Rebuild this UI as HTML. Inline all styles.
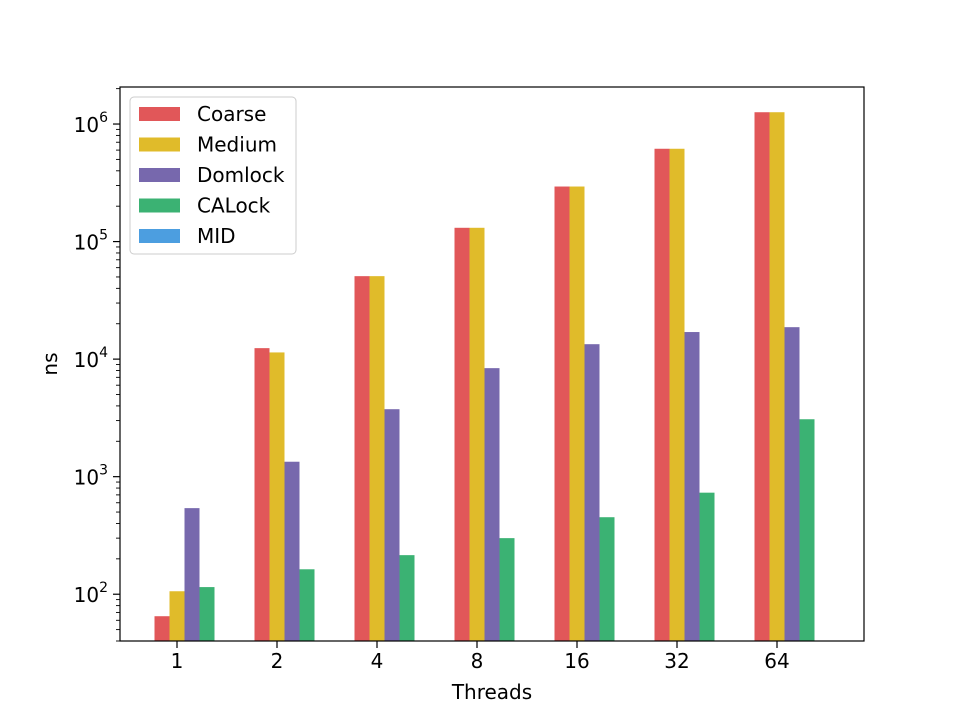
<!DOCTYPE html>
<html><head><meta charset="utf-8"><style>body{margin:0;background:#fff}svg{display:block;font-family:"DejaVu Sans","Liberation Sans",sans-serif}</style></head>
<body>
<svg id="chart" width="960" height="720" xmlns="http://www.w3.org/2000/svg"></svg>
<script>
const categories = ["1","2","4","8","16","32","64"];
const seriesNames = ["Coarse","Medium","Domlock","CALock","MID"];
const coarse = [65,12400,50800,131000,294000,616000,1260000];
const medium = [106,11400,50800,131000,294000,616000,1260000];
const domlock = [540,1340,3750,8380,13400,17000,18700];
const calock = [115,163,215,300,452,731,3080];
const mid = [null,null,null,null,null,null,null];
const series = [coarse,medium,domlock,calock,mid];
const colors = ["#e15759","#e0bb2a","#7768ad","#3bb273","#4c9ee0"];
const yTickExp = [2,3,4,5,6];

const L=120,R=864,T=87,B=641;
const yMin=Math.log10(40), yMax=6.315;
const y=v=>B-(Math.log10(v)-yMin)/(yMax-yMin)*(B-T);
const x=i=>177+i*100;
const bw=15;
const FS=20;
const svg=document.getElementById('chart');
const NS="http://www.w3.org/2000/svg";
function mk(tag,attrs,parent){const e=document.createElementNS(NS,tag);for(const k in attrs)e.setAttribute(k,attrs[k]);(parent||svg).appendChild(e);return e;}

series.forEach((s,j)=>{
  s.forEach((v,i)=>{
    if(v==null)return;
    const r=mk('rect',{x:x(i)-22.5+j*bw,y:y(v),width:bw,height:B-y(v),fill:colors[j]});
    
    
  });
});
const frame=mk('rect',{x:L,y:T,width:R-L,height:B-T,fill:'none',stroke:'#000','stroke-width':1.2});


categories.forEach((c,i)=>{
  mk('line',{x1:x(i),x2:x(i),y1:B,y2:B+7,stroke:'#000','stroke-width':1.2});
  const t=mk('text',{x:x(i),y:B+27,'text-anchor':'middle','font-size':FS});
  t.textContent=c;
  
  
});
for(let e=1;e<=6;e++){
  for(let m=1;m<10;m++){
    const v=m*Math.pow(10,e);
    if(Math.log10(v)<yMin||Math.log10(v)>yMax)continue;
    const yy=y(v);
    mk('line',{x1:L,x2:L-(m===1?7:4),y1:yy,y2:yy,stroke:'#000','stroke-width':m===1?1.2:0.9});
  }
}
yTickExp.forEach(e=>{
  const t=mk('text',{x:L-12,y:y(Math.pow(10,e))+8,'text-anchor':'end','font-size':FS});
  t.innerHTML='10<tspan dy="-10" font-size="14">'+e+'</tspan>';
  
  
});
const xt=mk('text',{x:492,y:699,'text-anchor':'middle','font-size':FS});
xt.textContent='Threads';


const yt=mk('text',{x:57,y:364,'text-anchor':'middle','font-size':FS,transform:'rotate(-90 57 364)'});
yt.textContent='ns';


const lg=mk('g',{});


mk('rect',{x:130,y:97,width:166,height:157,rx:4,fill:'#fff','fill-opacity':0.8,stroke:'#ccc','stroke-width':1},lg);
seriesNames.forEach((n,j)=>{
  const cy=114+j*30.5;
  const g=mk('g',{},lg);
  
  
  mk('rect',{x:139,y:cy-7,width:41,height:14,fill:colors[j]},g);
  const t=mk('text',{x:197,y:cy+7,'font-size':FS},g);
  t.textContent=n;
});
</script>
</body></html>
